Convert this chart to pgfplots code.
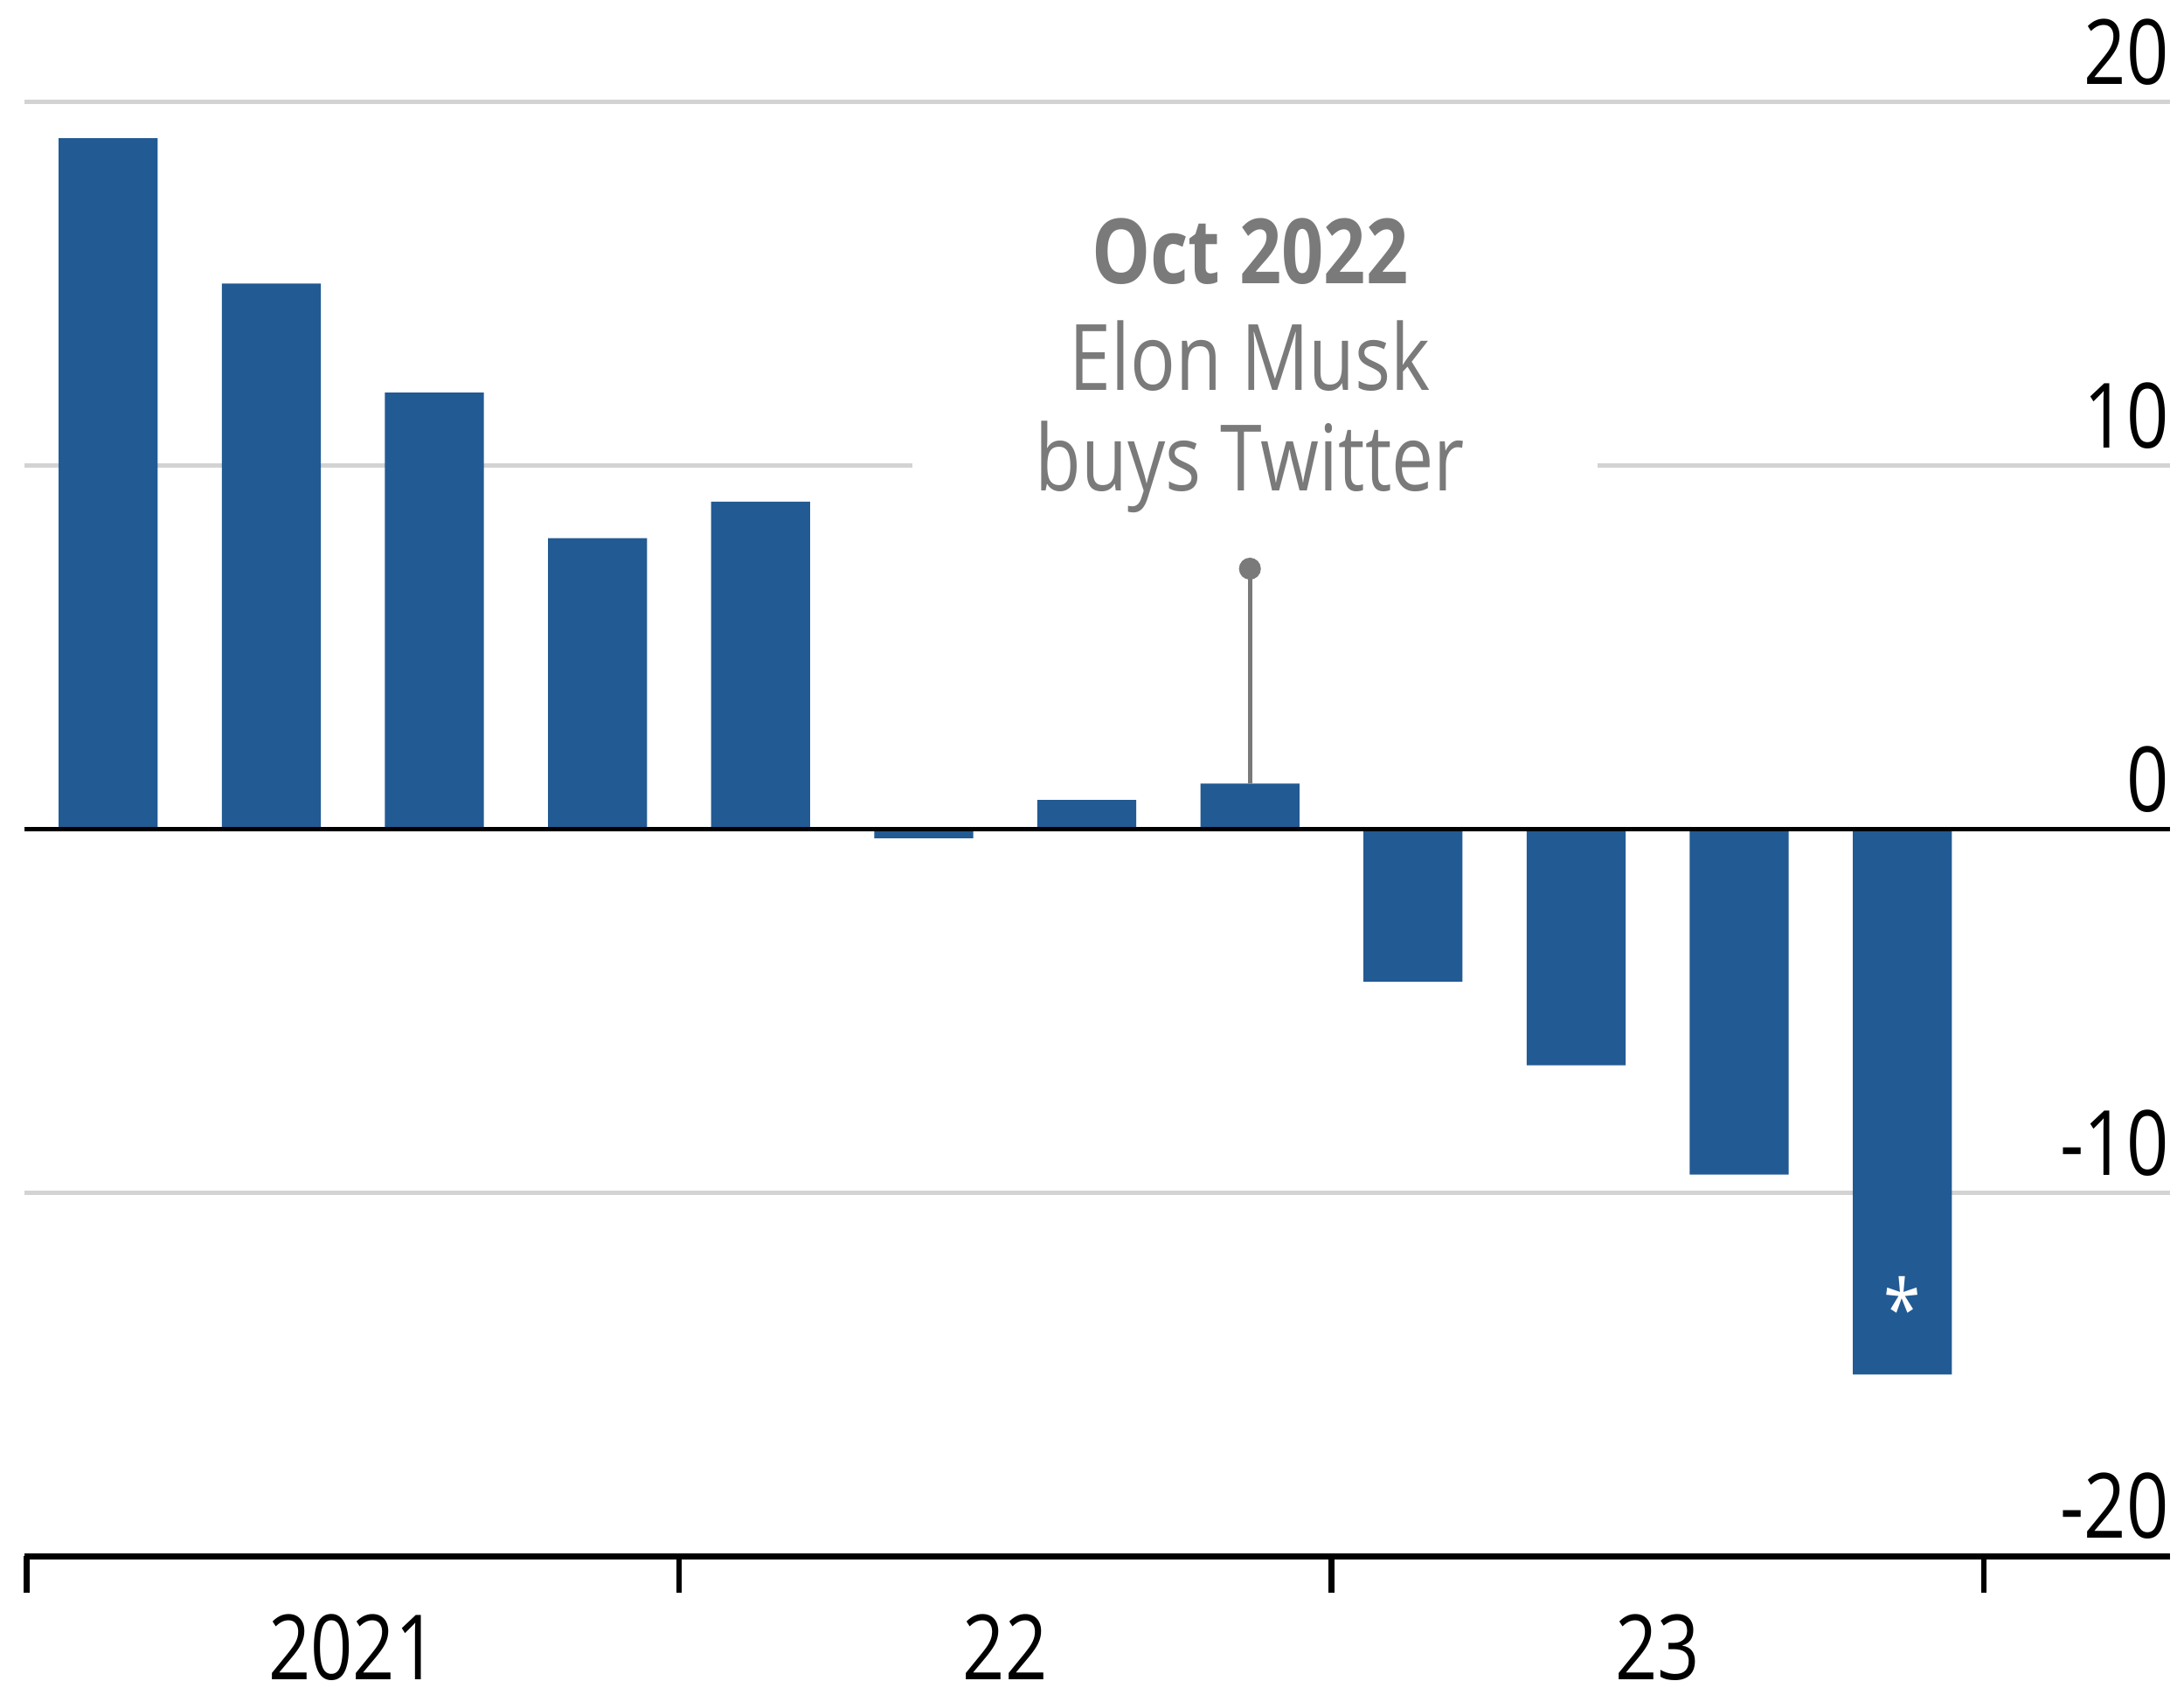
\documentclass[border=0pt]{standalone}
\usepackage{fontspec}
\setmainfont{Open Sans}[FakeStretch=0.82]
\usepackage{pgfplots}
\pgfplotsset{compat=1.18}
\definecolor{barblue}{HTML}{225A93}
\definecolor{annogray}{HTML}{7A7A7A}
\definecolor{gridgray}{HTML}{D3D3D3}
\begin{document}
\begin{tikzpicture}
\begin{axis}[
  scale only axis, width=393pt, height=285pt,
  xmin=-0.514, xmax=12.64, ymin=-20, ymax=22.8,
  axis x line*=bottom, axis y line=none,
  x axis line style={line width=1.1pt, black, -},
  xtick={-0.5,3.5,7.5,11.5}, xticklabels={},
  xticklabel style={inner sep=0pt},
  xtick align=outside, major tick length=6.6pt,
  x tick style={line width=1.1pt, black},
  ytick=\empty,
  clip=false,
]
% gridlines
\draw[gridgray, line width=0.7pt] (axis cs:-0.514,20) -- (axis cs:12.64,20);
\draw[gridgray, line width=0.7pt] (axis cs:-0.514,10) -- (axis cs:4.93,10);
\draw[gridgray, line width=0.7pt] (axis cs:9.13,10) -- (axis cs:12.64,10);
\draw[gridgray, line width=0.7pt] (axis cs:-0.514,-10) -- (axis cs:12.64,-10);
% bars
\addplot[ybar, bar width=0.607, fill=barblue, draw=none] coordinates {
 (0,19) (1,15) (2,12) (3,8) (4,9) (5,-0.25) (6,0.8) (7,1.25)
 (8,-4.2) (9,-6.5) (10,-9.5) (11,-15)};
% zero line
\draw[black, line width=0.9pt] (axis cs:-0.514,0) -- (axis cs:12.64,0);
% leader line
\addplot[annogray, line width=0.8pt, mark=*, mark size=1.6pt, mark indices={2}] coordinates {(7,1.25) (7,7.16)};
% annotation
\node[annogray, font=\bfseries\fontsize{16.5}{18}\selectfont, anchor=base] at (axis cs:7,15.0) {Oct 2022};
\node[annogray, font=\fontsize{16.8}{18}\selectfont, anchor=base] at (axis cs:7,12.07) {Elon Musk};
\node[annogray, font=\fontsize{16.8}{18}\selectfont, anchor=base] at (axis cs:7,9.31) {buys Twitter};
% asterisk
\node[white, font=\fontsize{15}{15}\selectfont, anchor=base, yshift=-6.8pt, inner sep=0pt] at (axis cs:11,-13) {*};
% y labels
\node[font=\fontsize{16.5}{18}\selectfont, anchor=base east, yshift=3.2pt, inner xsep=0pt] at (axis cs:12.64,20) {20};
\node[font=\fontsize{16.5}{18}\selectfont, anchor=base east, yshift=3.2pt, inner xsep=0pt] at (axis cs:12.64,10) {10};
\node[font=\fontsize{16.5}{18}\selectfont, anchor=base east, yshift=3.2pt, inner xsep=0pt] at (axis cs:12.64,0) {0};
\node[font=\fontsize{16.5}{18}\selectfont, anchor=base east, yshift=3.2pt, inner xsep=0pt] at (axis cs:12.64,-10) {-10};
\node[font=\fontsize{16.5}{18}\selectfont, anchor=base east, yshift=3.4pt, inner xsep=0pt] at (axis cs:12.64,-20) {-20};
% x labels
\node[font=\fontsize{16.5}{18}\selectfont, anchor=base, yshift=-22.6pt, inner sep=0pt] at (axis cs:1.5,-20) {2021};
\node[font=\fontsize{16.5}{18}\selectfont, anchor=base, yshift=-22.6pt, inner sep=0pt] at (axis cs:5.5,-20) {22};
\node[font=\fontsize{16.5}{18}\selectfont, anchor=base, yshift=-22.6pt, inner sep=0pt] at (axis cs:9.5,-20) {23};
\end{axis}
\path (current axis.south west) ++(-4.46pt,-25.4pt);
\path (current axis.north east) ++(2.6pt,0pt);
\end{tikzpicture}
\end{document}
